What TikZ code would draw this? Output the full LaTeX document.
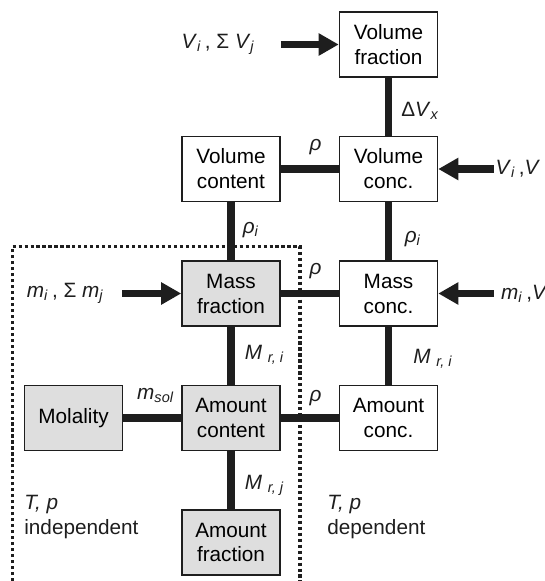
\documentclass[tikz,border=0pt]{standalone}
\usepackage{fontspec}
\setmainfont{Liberation Sans}
\usepackage{xcolor}
\usepackage{tikz}
\usetikzlibrary{positioning, arrows.meta}
\definecolor{ink}{HTML}{1E1E1E}
\definecolor{shade}{HTML}{DEDEDE}
\newcommand{\sbi}[1]{\textsubscript{\textit{#1}}}

\begin{document}
\begin{tikzpicture}[
    node distance=1.16cm and 1.16cm,
    font=\fontsize{11.8pt}{14.2pt}\selectfont,
    qty/.style ={draw=ink, line width=0.85pt, fill=white, align=center,
                 minimum width=1.96cm, minimum height=1.3cm, inner sep=1pt},
    sel/.style ={qty, fill=shade},
    lab/.style ={inner sep=0pt, text=ink},
    link/.style={line width=4.4pt, draw=ink},
    feed/.style={line width=4.2pt, draw=ink, -{Triangle[length=11.4pt, width=12pt]}},
    frame/.style={line width=1.8pt, draw=ink, dash pattern=on 1.8pt off 1.6pt}]

  \useasboundingbox (0,0) rectangle (10.9,-11.62);

  % T,p independent region
  \draw[frame] (0.25,-11.62) |- (6.0,-4.93) -- (6.0,-11.62);

  \node[qty] (volfrac) at (7.77,-0.89) {Volume\\fraction};
  \node[qty, below=of volfrac]  (volconc)  {Volume\\conc.};
  \node[qty, left=of volconc]   (volcont)  {Volume\\content};
  \node[sel, below=of volcont]  (massfrac) {Mass\\fraction};
  \node[qty, below=of volconc]  (massconc) {Mass\\conc.};
  \node[sel, below=of massfrac] (amtcont)  {Amount\\content};
  \node[qty, below=of massconc] (amtconc)  {Amount\\conc.};
  \node[sel, left=of amtcont]   (molal)    {Molality};
  \node[sel, below=of amtcont]  (amtfrac)  {Amount\\fraction};

  % inputs
  \node[lab, left=1.67cm of volfrac]  (vin)  {\textit{V}\sbi{i}\,, Σ \textit{V}\sbi{j}};
  \node[lab, right=1.14cm of volconc] (vcin) {\textit{V}\sbi{i}\,,\textit{V}};
  \node[lab, left=1.54cm of massfrac] (min)  {\textit{m}\sbi{i}\,, Σ \textit{m}\sbi{j}};
  \node[lab, right=1.25cm of massconc] (mcin) {\textit{m}\sbi{i}\,,\textit{V}};

  \node[lab, align=left, anchor=north west] (indep) at (0.48,-9.9) {\textit{T, p}\\independent};
  \node[lab, align=left, anchor=north west] (dep)   at (6.54,-9.9) {\textit{T, p}\\dependent};

  \draw[feed, shorten <=0.51cm] (vin)  -- (volfrac);
  \draw[feed, shorten <=0.03cm] (vcin) -- (volconc);
  \draw[feed, shorten <=0.36cm] (min)  -- (massfrac);
  \draw[feed, shorten <=0.14cm] (mcin) -- (massconc);

  \draw[link] (volfrac) -- node[lab, anchor=west, xshift=0.18cm, pos=0.57] {Δ\textit{V}\sbi{x}} (volconc);
  \draw[link] (volcont) -- node[lab, anchor=south, yshift=0.21cm, pos=0.6] {\textit{ρ}} (volconc);
  \draw[link] (volcont) -- node[lab, anchor=west, xshift=0.16cm, pos=0.48] {\textit{ρ}\sbi{i}} (massfrac);
  \draw[link] (volconc) -- node[lab, anchor=west, xshift=0.25cm, pos=0.63] {\textit{ρ}\sbi{i}} (massconc);
  \draw[link] (massfrac) -- node[lab, anchor=south, yshift=0.21cm, pos=0.6] {\textit{ρ}} (massconc);
  \draw[link] (massfrac) -- node[lab, anchor=west, xshift=0.2cm, pos=0.49] {\textit{M} \sbi{r, i}} (amtcont);
  \draw[link] (massconc) -- node[lab, anchor=west, xshift=0.42cm, pos=0.55] {\textit{M} \sbi{r, i}} (amtconc);
  \draw[link] (molal) -- node[lab, anchor=south, yshift=0.23cm, pos=0.56] {\textit{m}\sbi{sol}} (amtcont);
  \draw[link] (amtcont) -- node[lab, anchor=south, yshift=0.17cm, pos=0.6] {\textit{ρ}} (amtconc);
  \draw[link] (amtcont) -- node[lab, anchor=west, xshift=0.2cm, pos=0.59] {\textit{M} \sbi{r, j}} (amtfrac);
\end{tikzpicture}
\end{document}
